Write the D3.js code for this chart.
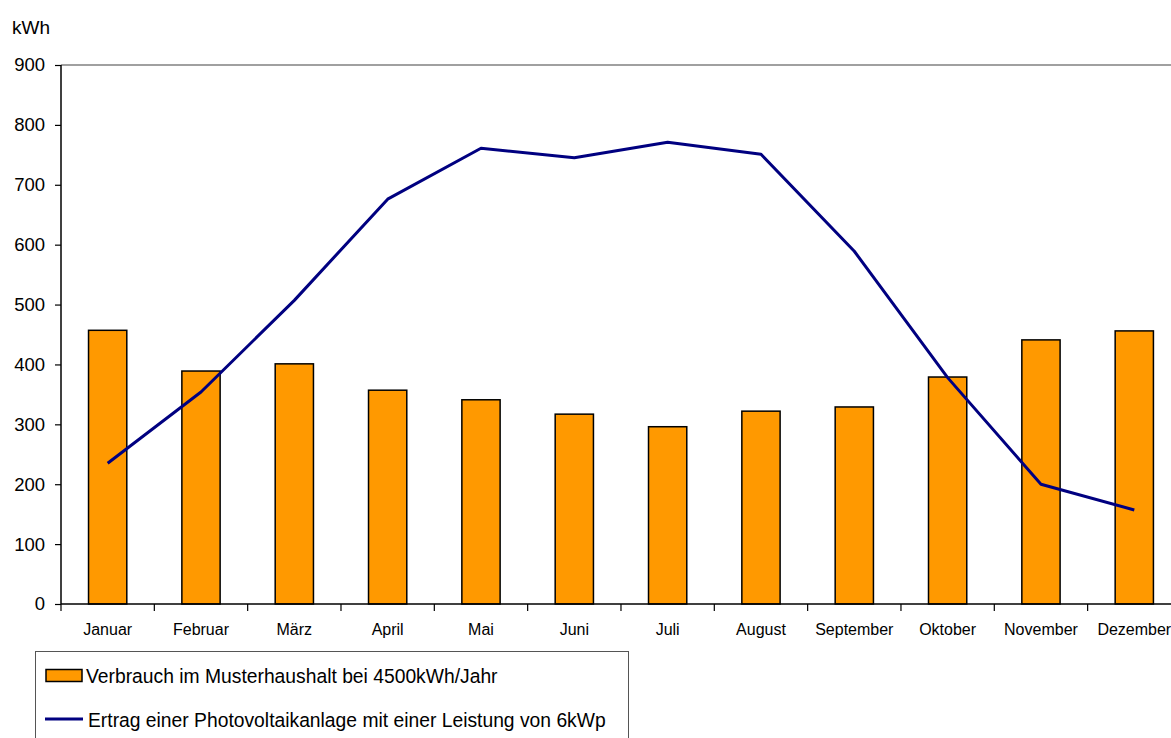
<!DOCTYPE html>
<html>
<head>
<meta charset="utf-8">
<script src="https://cdn.jsdelivr.net/npm/d3@7"></script>
<style>
  html, body { margin: 0; padding: 0; background: #fff; overflow: hidden; }
  svg { display: block; font-family: "Liberation Sans", Arial, sans-serif; }
</style>
</head>
<body>
<svg id="chart" width="1171" height="738"></svg>
<script>
// Monthly household consumption vs. photovoltaic yield (kWh)
const months = ["Januar", "Februar", "März", "April", "Mai", "Juni", "Juli",
                "August", "September", "Oktober", "November", "Dezember"];
const verbrauch = [457, 389, 401, 357, 341, 317, 296, 322, 329, 379, 441, 456];
const ertrag = [235, 354, 507, 676, 761, 745, 771, 751, 589, 378, 200, 157];
const yTicks = [0, 100, 200, 300, 400, 500, 600, 700, 800, 900];

const legendLabels = [
  "Verbrauch im Musterhaushalt bei 4500kWh/Jahr",
  "Ertrag einer Photovoltaikanlage mit einer Leistung von 6kWp"
];

const svg = d3.select("#chart");
const plotLeft = 61, plotTop = 65, plotBottom = 604;
const step = 93.33;
const plotRight = plotLeft + step * months.length;

const x = d3.scaleBand().domain(months).range([plotLeft, plotRight])
  .paddingInner(0.59).paddingOuter(0.295);
const xc = d => x(d) + x.bandwidth() / 2;
const y = d3.scaleLinear().domain([0, 900]).range([plotBottom, plotTop]);

// top border of plot area
svg.append("line")
  .attr("x1", plotLeft).attr("x2", 1171)
  .attr("y1", y(900)).attr("y2", y(900))
  .attr("stroke", "#808080").attr("stroke-width", 1.5);

// bars
svg.append("g").selectAll("rect").data(months).join("rect")
  .attr("x", d => x(d))
  .attr("y", (d, i) => y(verbrauch[i]))
  .attr("width", x.bandwidth())
  .attr("height", (d, i) => y(0) - y(verbrauch[i]))
  .attr("fill", "#FF9900")
  .attr("stroke", "#000")
  .attr("stroke-width", 1.5);

// PV yield line
const line = d3.line().x((d, i) => xc(months[i])).y(d => y(d));
svg.append("path")
  .datum(ertrag)
  .attr("d", line)
  .attr("fill", "none")
  .attr("stroke", "#000080")
  .attr("stroke-width", 3)
  .attr("stroke-linejoin", "round");

// y axis
const yAxis = d3.axisLeft(y).tickValues(yTicks).tickSize(6).tickPadding(10)
  .tickFormat(d3.format("d"));
const gy = svg.append("g").attr("transform", `translate(${plotLeft},0)`).call(yAxis);
gy.select(".domain").attr("stroke", "#000").attr("stroke-width", 1.5).attr("d", `M0,${plotTop}V${plotBottom}`);
gy.selectAll(".tick line").attr("stroke", "#000").attr("stroke-width", 1.2);
gy.selectAll(".tick text").attr("font-size", 18.5).attr("fill", "#000")
  .attr("font-family", "Liberation Sans, Arial, sans-serif");

// x axis with ticks between categories
const gx = svg.append("g").attr("transform", `translate(0,${plotBottom})`);
gx.append("line").attr("x1", plotLeft).attr("x2", 1171).attr("y1", 0).attr("y2", 0)
  .attr("stroke", "#000").attr("stroke-width", 1.5);
const boundaries = d3.range(months.length + 1).map(i => plotLeft + i * step);
gx.selectAll("line.tk").data(boundaries).join("line").attr("class", "tk")
  .attr("x1", d => d).attr("x2", d => d).attr("y1", 0).attr("y2", 7)
  .attr("stroke", "#000").attr("stroke-width", 1.2);
gx.selectAll("text").data(months).join("text")
  .attr("x", d => xc(d)).attr("y", 31)
  .attr("text-anchor", "middle").attr("font-size", 16).attr("fill", "#000")
  .text(d => d);

// unit label
svg.append("text").attr("x", 12).attr("y", 34).attr("font-size", 19).text("kWh");

// legend
const lg = svg.append("g");
lg.append("rect").attr("x", 35.5).attr("y", 651.5).attr("width", 593).attr("height", 100)
  .attr("fill", "#fff").attr("stroke", "#555").attr("stroke-width", 1);
lg.append("rect").attr("x", 46).attr("y", 669.5).attr("width", 36).attr("height", 12)
  .attr("fill", "#FF9900").attr("stroke", "#000").attr("stroke-width", 1.5);
lg.append("line").attr("x1", 45).attr("x2", 83).attr("y1", 719).attr("y2", 719)
  .attr("stroke", "#000080").attr("stroke-width", 3);
lg.append("text").attr("x", 86).attr("y", 683).attr("font-size", 19.3).text(legendLabels[0]);
lg.append("text").attr("x", 88).attr("y", 727).attr("font-size", 19.3).text(legendLabels[1]);
</script>
</body>
</html>
